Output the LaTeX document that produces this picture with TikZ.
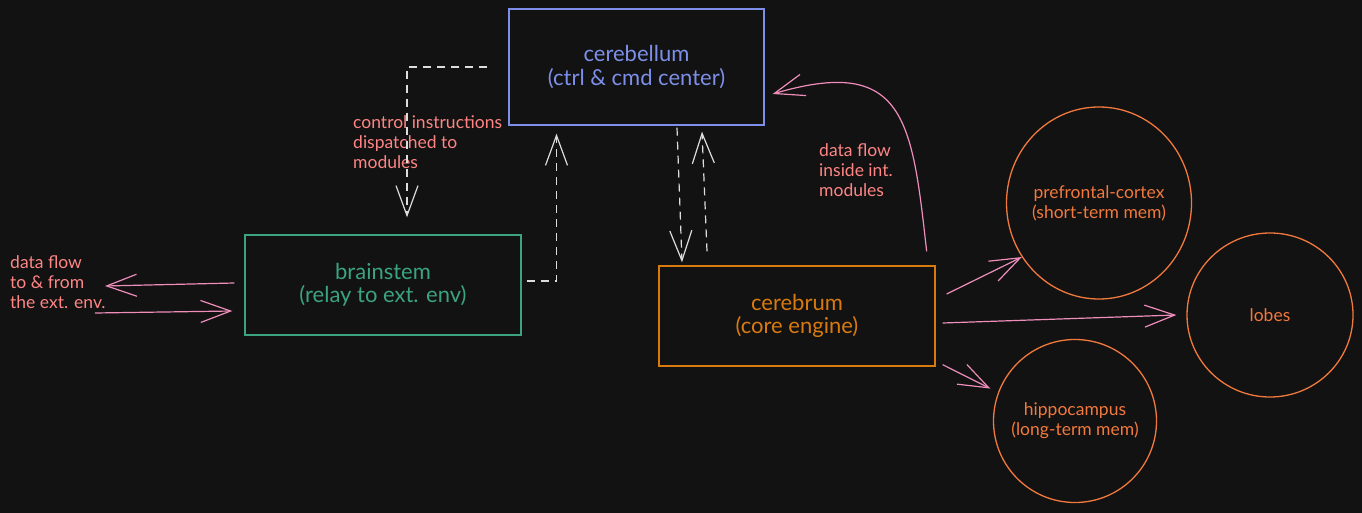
\documentclass[tikz,border=0pt]{standalone}
\usepackage{fontspec}
\setmainfont{Lato}
\usetikzlibrary{arrows.meta,shapes.geometric,calc}
\definecolor{bg}{HTML}{121212}
\definecolor{cblue}{HTML}{7D8FE8}
\definecolor{cgreen}{HTML}{3BA37F}
\definecolor{corange}{HTML}{D97A0F}
\definecolor{ccirc}{HTML}{F2793D}
\definecolor{cpink}{HTML}{EF8DBB}
\definecolor{csalmon}{HTML}{FF8585}
\definecolor{cdash}{HTML}{DDDDDD}
\begin{document}
\begin{tikzpicture}[x=1pt,y=-1pt,
 box/.style={draw, line width=1.3pt, rectangle, inner sep=0, align=center, font=\fontsize{22}{23.5}\selectfont},
 circ/.style={draw=ccirc, ellipse, line width=1.3pt, inner sep=0},
 circtext/.style={text=ccirc, align=center, inner sep=0, font=\fontsize{17.5}{20}\selectfont},
 lbl/.style={text=csalmon, align=left, anchor=west, inner sep=0, font=\fontsize{17.5}{20}\selectfont},
 dasharrow/.style={draw=cdash, line width=1.2pt, dash pattern=on 8pt off 6pt, -{Straight Barb[length=30pt,width=22pt]}},
 pinkarrow/.style={draw=cpink, line width=1.2pt, -{Straight Barb[length=30pt,width=22pt]}},
]
\fill[bg] (0,0) rectangle (1362,513);
\useasboundingbox (0,0) rectangle (1362,513);

\node[box, draw=cblue, text=cblue, minimum width=255, minimum height=116] (cbl) at (636.5,67) {cerebellum\\(ctrl \& cmd center)};
\node[box, draw=cgreen, text=cgreen, minimum width=276, minimum height=100] (bs) at (383,285) {brainstem\\(relay to ext. env)};
\node[box, draw=corange, text=corange, minimum width=276, minimum height=100] (cer) at (797,316) {cerebrum\\(core engine)};
\node[circ, minimum width=185, minimum height=192, label={[circtext]center:prefrontal-cortex\\(short-term mem)}] (pfc) at (1099,203) {};
\node[circ, minimum width=166, minimum height=164, label={[circtext]center:lobes}] (lob) at (1270,315) {};
\node[circ, minimum width=163, minimum height=163, label={[circtext]center:hippocampus\\(long-term mem)}] (hip) at (1075,421) {};

\node[lbl] (l1) at (353,142) {control instructions\\dispatched to\\modules};
\node[lbl] (l2) at (819,170) {data flow\\inside int.\\modules};
\node[lbl] (l3) at (10,282) {data flow\\to \& from\\the ext. env.};

\draw[dasharrow] ([xshift=-21pt]cbl.west) -| ([shift={(24,-17)}]bs.north);
\draw[dasharrow] ([shift={(5,-4)}]bs.east) -| ([shift={(-80,8)}]cbl.south);
\draw[dasharrow] ([shift={(40.5,2)}]cbl.south) -- ([shift={(-115,-3)}]cer.north);
\draw[dasharrow] ([shift={(-90,-14)}]cer.north) -- ([shift={(65.5,6)}]cbl.south);

\draw[pinkarrow] ([shift={(-9,-14)}]cer.north east) .. controls (912,120) and (905,55) .. ([shift={(8,27)}]cbl.east);
\draw[pinkarrow] ([shift={(11,-22)}]cer.east) -- (pfc.215);
\draw[pinkarrow] ([shift={(7,7)}]cer.east) -- ([xshift=-10pt]lob.west);
\draw[pinkarrow] ([shift={(7,-2)}]cer.south east) -- ([shift={(-8,-3)}]hip.159);

\coordinate (extL) at (105,286);
\coordinate (extR) at (95,313);
\draw[pinkarrow] ([shift={(-10,-2)}]bs.west) -- (extL);
\draw[pinkarrow] (extR) -- ([shift={(-12,26)}]bs.west);
\end{tikzpicture}
\end{document}
